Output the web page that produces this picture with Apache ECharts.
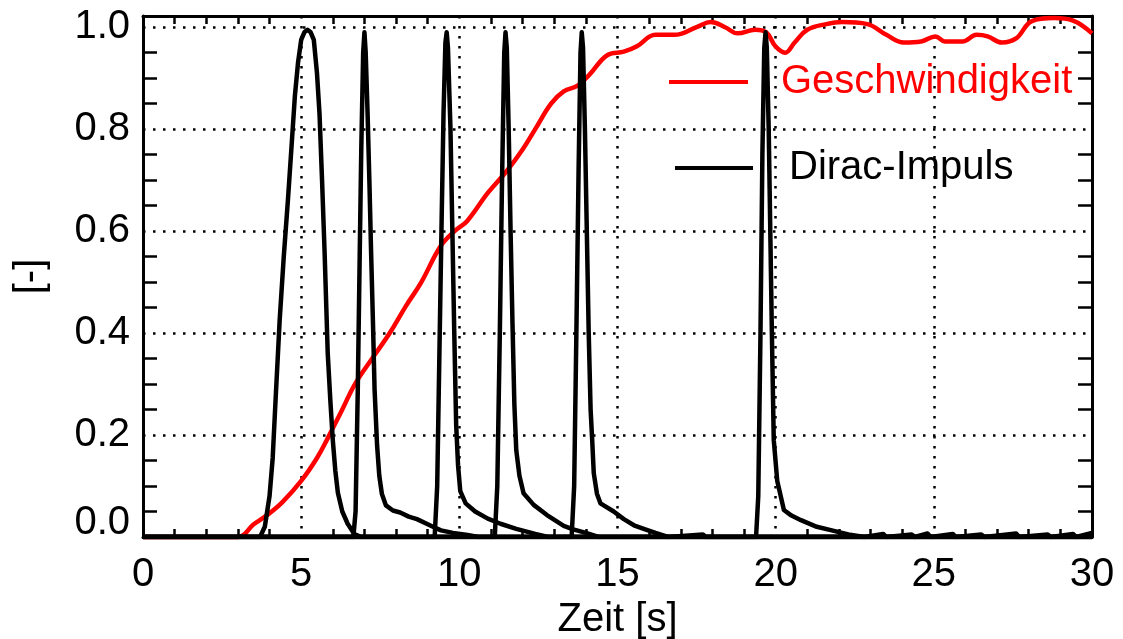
<!DOCTYPE html>
<html>
<head>
<meta charset="utf-8">
<script src="https://cdn.jsdelivr.net/npm/echarts@6/dist/echarts.min.js"></script>
<style>
  html, body { margin: 0; padding: 0; background: #fff; }
  #chart { width: 1123px; height: 639px; }
</style>
</head>
<body>
<div id="chart"></div>
<script>
// Geschwindigkeit (normiert) über der Zeit
const speedTime  = [0, 3.0, 3.5, 3.9, 4.4, 5.0, 5.5, 5.85, 6.3, 6.7, 7.3, 7.8, 8.3, 8.8, 9.4, 9.85, 10.25, 10.9, 11.5, 12.0, 12.4, 12.9, 13.3, 13.75, 14.1, 14.7, 15.2, 15.6, 16.2, 16.8, 17.5, 17.95, 18.4, 18.8, 19.35, 19.7, 20.0, 20.3, 20.6, 21.0, 21.6, 22.1, 22.9, 23.5, 24.05, 24.6, 25.05, 25.35, 25.9, 26.35, 26.7, 27.15, 27.6, 28.1, 28.8, 29.4, 30.0];
const speedValue = [0, 0, 0.025, 0.042, 0.068, 0.11, 0.155, 0.195, 0.25, 0.30, 0.355, 0.40, 0.452, 0.50, 0.57, 0.60, 0.62, 0.675, 0.718, 0.76, 0.80, 0.85, 0.874, 0.886, 0.906, 0.946, 0.952, 0.962, 0.985, 0.985, 1.0, 1.01, 1.0, 0.988, 0.995, 0.99, 0.962, 0.95, 0.97, 0.995, 1.006, 1.01, 1.006, 0.985, 0.97, 0.972, 0.982, 0.972, 0.972, 0.985, 0.982, 0.97, 0.978, 1.012, 1.018, 1.013, 0.988];

// Antworten auf die Dirac-Impulse, je Messung [Zeit, Wert]
const pulse1 = [[0,0],[3.7,0],[3.85,0.02],[4.0,0.08],[4.1,0.155],[4.2,0.28],[4.32,0.425],[4.45,0.55],[4.58,0.66],[4.7,0.77],[4.8,0.864],[4.9,0.93],[5.0,0.975],[5.1,0.99],[5.2,0.995],[5.3,0.99],[5.4,0.975],[5.5,0.91],[5.58,0.83],[5.66,0.70],[5.74,0.56],[5.84,0.36],[5.92,0.27],[6.0,0.19],[6.08,0.13],[6.16,0.087],[6.3,0.05],[6.47,0.026],[6.68,0.006],[6.9,0],[30,0]];
const pulse2 = [[0,0],[6.65,0],[6.72,0.05],[6.79,0.29],[6.85,0.55],[6.9,0.76],[6.96,0.95],[7.0,0.99],[7.04,0.95],[7.1,0.83],[7.16,0.69],[7.21,0.56],[7.27,0.42],[7.32,0.29],[7.4,0.18],[7.47,0.12],[7.55,0.085],[7.68,0.062],[7.9,0.052],[8.13,0.048],[8.4,0.04],[8.66,0.035],[9.0,0.025],[9.2,0.019],[9.42,0.013],[9.8,0.008],[10.26,0.004],[10.6,0],[30,0]];
const pulse3 = [[0,0],[9.22,0],[9.3,0.1],[9.37,0.36],[9.44,0.62],[9.5,0.83],[9.56,0.97],[9.6,0.99],[9.64,0.96],[9.72,0.8],[9.78,0.6],[9.84,0.4],[9.9,0.22],[9.96,0.14],[10.03,0.09],[10.2,0.066],[10.5,0.05],[10.9,0.036],[11.3,0.026],[11.8,0.016],[12.4,0.006],[12.8,0],[30,0]];
const pulse4 = [[0,0],[11.12,0],[11.2,0.1],[11.28,0.4],[11.35,0.7],[11.42,0.95],[11.46,0.99],[11.5,0.96],[11.56,0.8],[11.62,0.6],[11.68,0.42],[11.74,0.26],[11.8,0.17],[11.9,0.12],[12.03,0.086],[12.35,0.063],[12.77,0.043],[13.3,0.022],[13.6,0.015],[14.0,0.008],[14.4,0],[30,0]];
const pulse5 = [[0,0],[13.55,0],[13.63,0.1],[13.7,0.4],[13.77,0.72],[13.83,0.95],[13.87,0.99],[13.91,0.96],[13.97,0.8],[14.03,0.6],[14.09,0.4],[14.15,0.25],[14.2,0.19],[14.25,0.125],[14.35,0.085],[14.46,0.066],[14.88,0.05],[15.2,0.035],[15.52,0.023],[15.83,0.016],[16.2,0.008],[16.6,0],[17.7,0.005],[17.8,0],[30,0]];
const pulse6 = [[0,0],[19.38,0],[19.45,0.08],[19.52,0.4],[19.58,0.75],[19.64,0.96],[19.68,0.99],[19.72,0.96],[19.78,0.8],[19.83,0.6],[19.88,0.4],[19.94,0.19],[20.05,0.11],[20.26,0.053],[20.5,0.042],[20.8,0.033],[21.3,0.02],[21.84,0.012],[22.3,0.005],[22.8,0],[23.4,0.006],[23.5,0],[24.3,0.005],[24.4,0],[24.8,0.007],[24.9,0],[25.6,0.006],[25.7,0],[26.5,0.005],[26.6,0],[27.6,0.007],[27.7,0],[28.6,0.005],[28.7,0],[29.4,0.006],[29.5,0],[30,0.008]];
const pulses = [pulse1, pulse2, pulse3, pulse4, pulse5, pulse6];

// Achsen
const xTicks = { min: 0, max: 30, step: 5 };
const yTicks = { min: 0, max: 1.022, step: 0.2, minorStep: 0.05 };
const xName = 'Zeit [s]';
const yName = '[-]';
const speedName = 'Geschwindigkeit';
const pulseName = 'Dirac-Impuls';

const FONT = 'Liberation Sans';
const FS = 40;

// minor tick positions on the y axis (between the 0.2 steps)
const yMinor = [];
for (let i = 1; i * yTicks.minorStep < 1.0001; i++) {
  const v = +(i * yTicks.minorStep).toFixed(4);
  if (Math.abs(v / yTicks.step - Math.round(v / yTicks.step)) > 1e-6) yMinor.push(v);
}

const speedData = speedTime.map((t, i) => [t, speedValue[i]]);

const axisLine = { show: true, onZero: false, lineStyle: { color: '#000', width: 3 } };
const dotted = { show: true, lineStyle: { color: '#000', width: 2.5, type: [2.5, 7.5] } };

const chart = echarts.init(document.getElementById('chart'), null, { renderer: 'canvas' });

const baseX = {
  type: 'value', min: xTicks.min, max: xTicks.max, interval: xTicks.step,
  axisLine: axisLine,
  axisTick: { show: false, inside: true },
  minorTick: { show: true, splitNumber: 5, length: 8, lineStyle: { color: '#000', width: 2.5 } },
  minorSplitLine: { show: false }
};

const baseY = {
  type: 'value', min: yTicks.min, max: yTicks.max, interval: yTicks.step,
  axisLine: axisLine
};

const tickY = (pos) => ({
  type: 'value', position: pos, min: yTicks.min, max: yTicks.max, interval: yTicks.minorStep,
  axisLine: pos === 'right' ? axisLine : { show: false },
  axisTick: { show: true, inside: true, length: 14, customValues: yMinor, lineStyle: { color: '#000', width: 2.5 } },
  axisLabel: { show: false },
  splitLine: { show: false }
});

const legendText = (color, padLeft) => ({
  color: color, fontSize: FS, fontFamily: FONT, lineHeight: 40, padding: [0, 0, 0, padLeft]
});

chart.setOption({
  animation: false,
  backgroundColor: '#fff',
  grid: { left: 143, right: 31, top: 16, bottom: 102, containLabel: false, outerBoundsMode: 'none' },
  legend: [
    {
      data: [speedName], left: 669, top: 62, padding: 0, orient: 'vertical',
      icon: 'rect', itemWidth: 79, itemHeight: 4, selectedMode: false,
      textStyle: legendText('#ff0000', 28)
    },
    {
      data: [pulseName], left: 675, top: 148, padding: 0, orient: 'vertical',
      icon: 'rect', itemWidth: 78, itemHeight: 4, selectedMode: false,
      textStyle: legendText('#000', 31)
    }
  ],
  xAxis: [
    Object.assign({}, baseX, {
      position: 'bottom',
      name: xName, nameLocation: 'middle', nameGap: 60,
      nameTextStyle: { color: '#000', fontSize: FS, fontFamily: FONT },
      axisLabel: { color: '#000', fontSize: FS, fontFamily: FONT, margin: 18 },
      splitLine: dotted
    }),
    Object.assign({}, baseX, {
      position: 'top',
      axisLabel: { show: false },
      splitLine: { show: false }
    })
  ],
  yAxis: [
    Object.assign({}, baseY, {
      position: 'left',
      name: yName, nameLocation: 'middle', nameGap: 92, nameRotate: 90,
      nameTextStyle: { color: '#000', fontSize: FS, fontFamily: FONT },
      axisTick: { show: false },
      axisLabel: {
        color: '#000', fontSize: FS, fontFamily: FONT, margin: 13,
        showMaxLabel: false,
        formatter: (v) => {
          const k = v / yTicks.step;
          if (Math.abs(k - Math.round(k)) > 1e-6) return '';
          return v === 0 ? '{z|0.0}' : v.toFixed(1);
        },
        rich: { z: { fontSize: FS, fontFamily: FONT, color: '#000', padding: [0, 0, 28, 0] } }
      },
      splitLine: dotted
    }),
    tickY('right'),
    tickY('left')
  ],
  series: [
    {
      name: speedName, type: 'line', data: speedData, xAxisIndex: 0, yAxisIndex: 0,
      smooth: 0.4, symbol: 'none', color: '#ff0000',
      lineStyle: { color: '#ff0000', width: 4.5 }, clip: false, z: 2
    }
  ].concat(pulses.map((p) => ({
    name: pulseName, type: 'line', data: p, xAxisIndex: 0, yAxisIndex: 0,
    symbol: 'none', color: '#000',
    lineStyle: { color: '#000', width: 4.5, join: 'round' }, z: 3
  })))
});
</script>
</body>
</html>
